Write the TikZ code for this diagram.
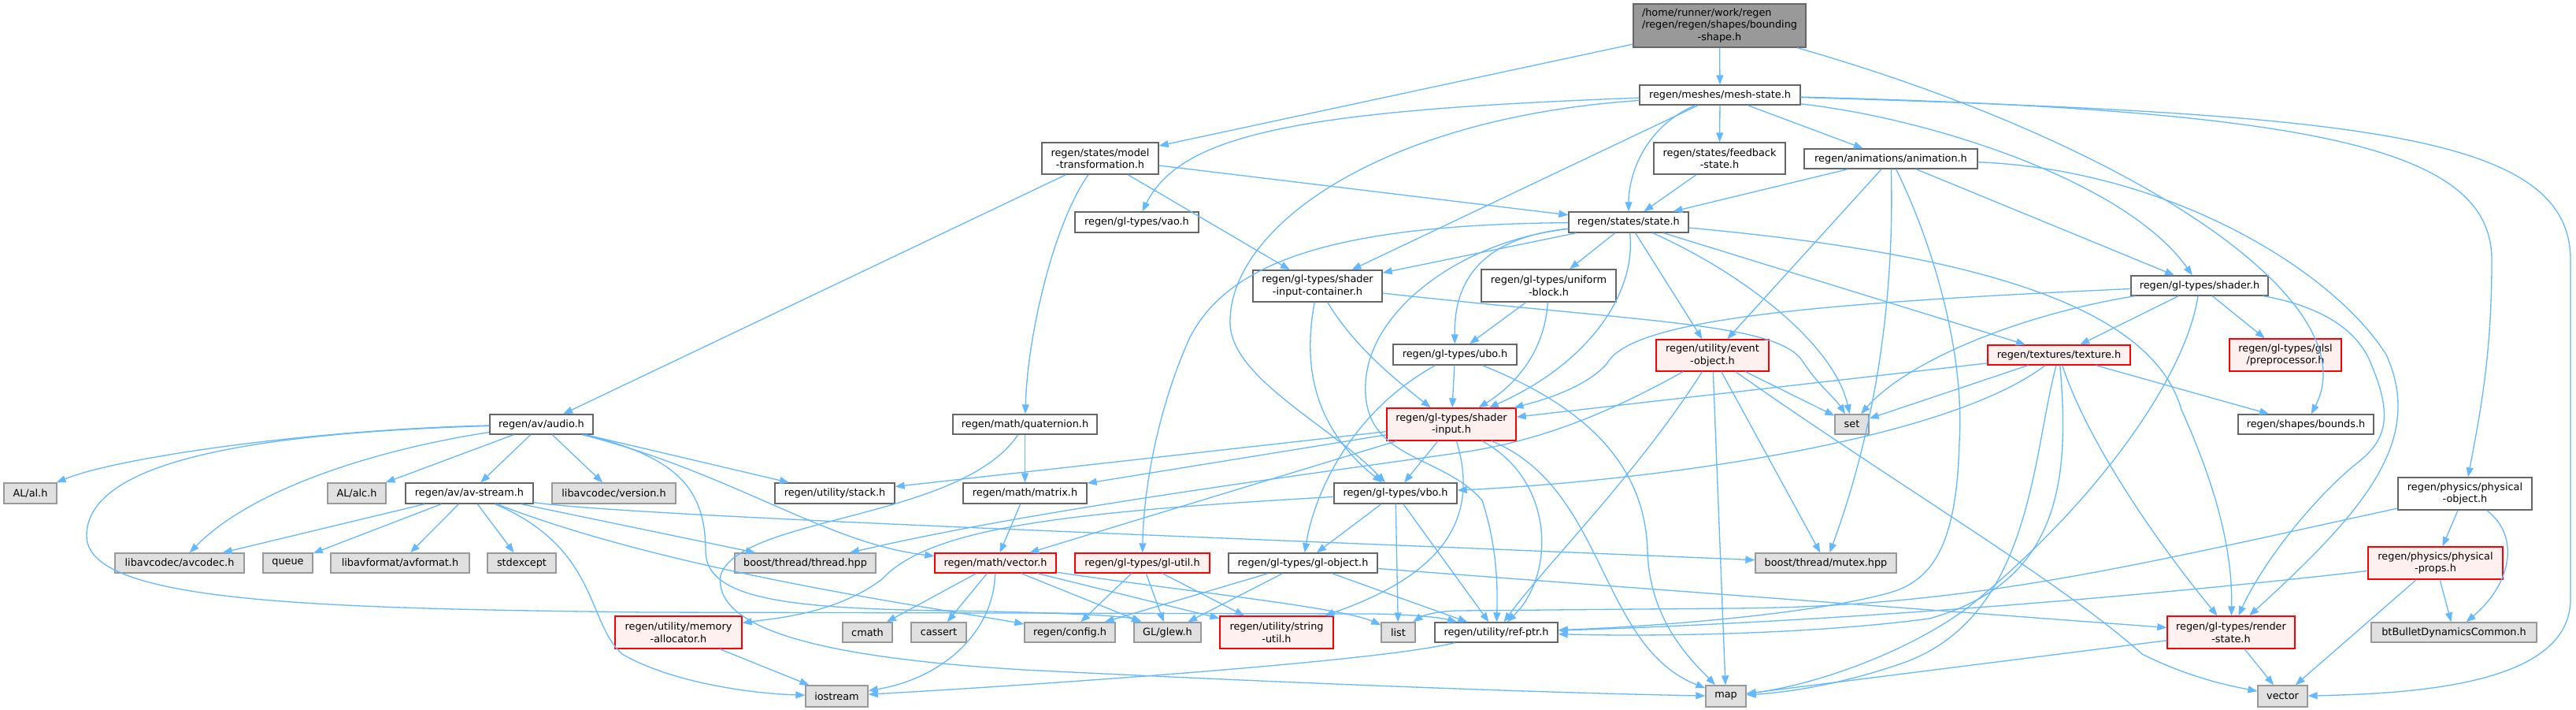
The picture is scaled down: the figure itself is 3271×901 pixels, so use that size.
\documentclass[tikz,border=0pt]{standalone}
\usepackage{fontspec}
\setmainfont{DejaVu Sans}
\usetikzlibrary{arrows.meta}
\definecolor{edgec}{HTML}{63B8FF}
\definecolor{cdark}{HTML}{666666}
\definecolor{cgrey}{HTML}{999999}
\definecolor{cext}{HTML}{E0E0E0}
\definecolor{rfill}{HTML}{FFF0F0}
\definecolor{rdraw}{HTML}{FF0000}
\newcommand\nodefont{\fontsize{12.83pt}{15.5pt}\selectfont}
\begin{document}
\begin{tikzpicture}[x=1pt,y=-1pt,
  nb/.style={draw=cdark, fill=white, line width=1.3pt, inner sep=0pt, align=center, font=\nodefont, text=black},
  ext/.style={nb, draw=cgrey, fill=cext},
  rn/.style={nb, draw=rdraw, fill=rfill},
  rootn/.style={nb, draw=cdark, fill=cgrey},
  edg/.style={draw=edgec, line width=1.3pt, -{Triangle[length=12pt,width=9pt]}, fill=none}]
\fill[white] (0,0) rectangle (3271,901);
\useasboundingbox (0,0) rectangle (3271,901);

% ---------------- nodes ----------------
\node[rootn, minimum width=219pt, minimum height=55pt] (root) at (2183.5,32.5) {\begin{tabular}{@{}l@{}}/home/runner/work/regen\\/regen/regen/shapes/bounding\\\multicolumn{1}{@{}c@{}}{-shape.h}\end{tabular}};
\node[nb, minimum width=204pt, minimum height=25pt] (ms) at (2184,120.5) {regen/meshes/mesh-state.h};
\node[nb, minimum width=148pt, minimum height=40pt] (mt) at (1397,201) {regen/states/model\\-transformation.h};
\node[nb, minimum width=167pt, minimum height=40pt] (fb) at (2183.5,201) {regen/states/feedback\\-state.h};
\node[nb, minimum width=220pt, minimum height=25pt] (anim) at (2401,201.5) {regen/animations/animation.h};
\node[nb, minimum width=157pt, minimum height=26pt] (vao) at (1443.5,282) {regen/gl-types/vao.h};
\node[nb, minimum width=152pt, minimum height=26pt] (st) at (2068,282) {regen/states/state.h};
\node[nb, minimum width=164pt, minimum height=40pt] (sic) at (1673,363) {regen/gl-types/shader\\-input-container.h};
\node[nb, minimum width=171pt, minimum height=41pt] (ub) at (1966.5,362.5) {regen/gl-types/uniform\\-block.h};
\node[nb, minimum width=174pt, minimum height=25pt] (sh) at (2793,362.5) {regen/gl-types/shader.h};
\node[nb, minimum width=157pt, minimum height=26pt] (ubo) at (1847.5,450) {regen/gl-types/ubo.h};
\node[rn, minimum width=181pt, minimum height=25pt] (tex) at (2614.5,450.5) {regen/textures/texture.h};
\node[rn, minimum width=143pt, minimum height=40pt] (eo) at (2174.5,451) {regen/utility/event\\-object.h};
\node[rn, minimum width=142pt, minimum height=41pt] (glsl) at (2902,450.5) {regen/gl-types/glsl\\/preprocessor.h};
\node[nb, minimum width=131pt, minimum height=25pt] (audio) at (687.5,538.5) {regen/av/audio.h};
\node[nb, minimum width=183pt, minimum height=25pt] (quat) at (1301.5,538.5) {regen/math/quaternion.h};
\node[ext, minimum width=43pt, minimum height=25pt] (set) at (2351.5,538.5) {set};
\node[nb, minimum width=172pt, minimum height=25pt] (bounds) at (2928,538.5) {regen/shapes/bounds.h};
\node[rn, minimum width=164pt, minimum height=41pt] (si) at (1843,538.5) {regen/gl-types/shader\\-input.h};
\node[ext, minimum width=67pt, minimum height=26pt] (al) at (38.5,626) {AL/al.h};
\node[ext, minimum width=74pt, minimum height=26pt] (alc) at (453,626) {AL/alc.h};
\node[nb, minimum width=162pt, minimum height=26pt] (avs) at (596,626) {regen/av/av-stream.h};
\node[ext, minimum width=157pt, minimum height=26pt] (ver) at (779.5,626) {libavcodec/version.h};
\node[nb, minimum width=152pt, minimum height=26pt] (stack) at (1060,626) {regen/utility/stack.h};
\node[nb, minimum width=157pt, minimum height=26pt] (mat) at (1301.5,626) {regen/math/matrix.h};
\node[nb, minimum width=156pt, minimum height=26pt] (vbo) at (1772,626) {regen/gl-types/vbo.h};
\node[nb, minimum width=170pt, minimum height=41pt] (po) at (3130,626.5) {regen/physics/physical\\-object.h};
\node[ext, minimum width=164pt, minimum height=25pt] (avc) at (228,714.5) {libavcodec/avcodec.h};
\node[ext, minimum width=63pt, minimum height=25pt] (queue) at (365.5,714.5) {queue};
\node[ext, minimum width=176pt, minimum height=25pt] (avf) at (508,714.5) {libavformat/avformat.h};
\node[ext, minimum width=87pt, minimum height=25pt] (stdx) at (662.5,714.5) {stdexcept};
\node[ext, minimum width=179pt, minimum height=25pt] (thr) at (1022.5,714.5) {boost/thread/thread.hpp};
\node[rn, minimum width=154pt, minimum height=25pt] (vec) at (1264,714.5) {regen/math/vector.h};
\node[rn, minimum width=171pt, minimum height=25pt] (glu) at (1450.5,714.5) {regen/gl-types/gl-util.h};
\node[nb, minimum width=189pt, minimum height=25pt] (glo) at (1654.5,714.5) {regen/gl-types/gl-object.h};
\node[ext, minimum width=179pt, minimum height=25pt] (mtx) at (2318.5,714.5) {boost/thread/mutex.hpp};
\node[rn, minimum width=171pt, minimum height=41pt] (pp) at (3092.5,714.5) {regen/physics/physical\\-props.h};
\node[rn, minimum width=161pt, minimum height=41pt] (mem) at (861.5,802.5) {regen/utility/memory\\-allocator.h};
\node[ext, minimum width=63pt, minimum height=25pt] (cmath) at (1101.5,802.5) {cmath};
\node[ext, minimum width=70pt, minimum height=25pt] (cassert) at (1192,802.5) {cassert};
\node[ext, minimum width=115pt, minimum height=25pt] (cfg) at (1358.5,802.5) {regen/config.h};
\node[ext, minimum width=85pt, minimum height=25pt] (glew) at (1482.5,802.5) {GL/glew.h};
\node[rn, minimum width=144pt, minimum height=41pt] (su) at (1621,802.5) {regen/utility/string\\-util.h};
\node[ext, minimum width=43pt, minimum height=25pt] (list) at (1775.5,802.5) {list};
\node[nb, minimum width=156pt, minimum height=25pt] (rp) at (1900,802.5) {regen/utility/ref-ptr.h};
\node[rn, minimum width=162pt, minimum height=41pt] (rs) at (2833,802.5) {regen/gl-types/render\\-state.h};
\node[ext, minimum width=210pt, minimum height=25pt] (bt) at (3116,802.5) {btBulletDynamicsCommon.h};
\node[ext, minimum width=79pt, minimum height=27pt] (ios) at (1062.5,883.5) {iostream};
\node[ext, minimum width=51pt, minimum height=27pt] (map) at (2191.5,883.5) {map};
\node[ext, minimum width=63pt, minimum height=27pt] (vect) at (2898.5,883.5) {vector};

% ---------------- edges ----------------
% root
\draw[edg] (root) -- (ms);
\draw[edg] (root) -- (mt);
\draw[edg] (root) .. controls (2700,180) and (3010,380) .. (bounds);
% mesh-state
\draw[edg] (ms) -- (fb);
\draw[edg] (ms) -- (anim);
\draw[edg] (ms) .. controls (2090,160) and (2068,220) .. (st);
\draw[edg] (ms) .. controls (1650,140) and (1500,170) .. (vao);
\draw[edg] (ms) -- (sic);
\draw[edg] (ms) .. controls (1750,150) and (1560,290) .. (1562,410) .. controls (1563,480) and (1690,540) .. (vbo);
\draw[edg] (ms) .. controls (2450,150) and (2700,230) .. (sh);
\draw[edg] (ms) .. controls (2950,140) and (3164,190) .. (3164,330) .. controls (3164,450) and (3150,520) .. (po);
\draw[edg] (ms) .. controls (3000,145) and (3264,170) .. (3264,330) -- (3264,760) .. controls (3264,860) and (3100,880) .. (vect);
% model-transformation
\draw[edg] (mt) -- (audio);
\draw[edg] (mt) .. controls (1340,280) and (1305,420) .. (quat);
\draw[edg] (mt) -- (sic);
\draw[edg] (mt) -- (st);
% feedback
\draw[edg] (fb) -- (st);
% animation
\draw[edg] (anim) -- (st);
\draw[edg] (anim) -- (eo);
\draw[edg] (anim) -- (sh);
\draw[edg] (anim) .. controls (2405,350) and (2390,520) .. (mtx);
\draw[edg] (anim) .. controls (2450,300) and (2495,440) .. (2488,560) .. controls (2485,680) and (2460,735) .. (2400,752) .. controls (2300,780) and (2100,795) .. (rp);
\draw[edg] (anim) .. controls (2750,215) and (2960,340) .. (3030,450) .. controls (3080,560) and (3000,650) .. (rs);
% shader.h
\draw[edg] (sh) .. controls (2930,385) and (2990,410) .. (3010,460) .. controls (3040,530) and (3030,560) .. (2990,590) .. controls (2930,640) and (2870,720) .. (rs);
\draw[edg] (sh) -- (tex);
\draw[edg] (sh) -- (glsl);
\draw[edg] (sh) .. controls (2300,385) and (2070,405) .. (2040,462) .. controls (2010,495) and (1950,510) .. (si);
\draw[edg] (sh) .. controls (2560,400) and (2420,460) .. (set);
\draw[edg] (sh) .. controls (2775,480) and (2660,640) .. (2500,770) .. controls (2420,830) and (2300,870) .. (map);
% state.h
\draw[edg] (st) -- (sic);
\draw[edg] (st) -- (ub);
\draw[edg] (st) .. controls (1900,300) and (1846,340) .. (ubo);
\draw[edg] (st) .. controls (1700,285) and (1560,330) .. (1510,430) .. controls (1470,520) and (1452,620) .. (glu);
\draw[edg] (st) .. controls (1860,305) and (1740,390) .. (1734,485) .. controls (1728,585) and (1830,575) .. (1882,635) .. controls (1900,690) and (1902,740) .. (rp);
\draw[edg] (st) .. controls (2078,370) and (2020,460) .. (si);
\draw[edg] (st) -- (eo);
\draw[edg] (st) .. controls (2220,350) and (2330,440) .. (set);
\draw[edg] (st) -- (tex);
\draw[edg] (st) .. controls (2480,320) and (2730,380) .. (2770,520) .. controls (2815,620) and (2835,700) .. (rs);
% shader-input-container
\draw[edg] (sic) .. controls (2100,410) and (2260,410) .. (2290,460) .. controls (2310,490) and (2330,505) .. (set);
\draw[edg] (sic) .. controls (1655,460) and (1665,540) .. (vbo);
\draw[edg] (sic) .. controls (1720,440) and (1770,480) .. (si);
% uniform-block
\draw[edg] (ub) -- (ubo);
\draw[edg] (ub) .. controls (1962,440) and (1930,485) .. (si);
% ubo
\draw[edg] (ubo) .. controls (1720,520) and (1670,620) .. (glo);
\draw[edg] (ubo) -- (si);
\draw[edg] (ubo) .. controls (2050,530) and (2090,620) .. (2092,700) .. controls (2095,790) and (2150,840) .. (map);
% event-object
\draw[edg] (eo) .. controls (2050,520) and (1960,560) .. (1850,575) .. controls (1600,610) and (1300,650) .. (thr);
\draw[edg] (eo) .. controls (2080,600) and (1960,720) .. (rp);
\draw[edg] (eo) -- (map);
\draw[edg] (eo) -- (mtx);
\draw[edg] (eo) -- (set);
\draw[edg] (eo) .. controls (2400,610) and (2620,740) .. (2720,830) .. controls (2780,860) and (2830,870) .. (vect);
% shader-input
\draw[edg] (si) -- (stack);
\draw[edg] (si) -- (mat);
\draw[edg] (si) -- (vec);
\draw[edg] (si) -- (vbo);
\draw[edg] (si) .. controls (1880,660) and (1830,730) .. (su);
\draw[edg] (si) .. controls (1975,610) and (1975,730) .. (rp);
\draw[edg] (si) .. controls (2040,620) and (2030,820) .. (map);
% texture
\draw[edg] (tex) -- (si);
\draw[edg] (tex) -- (set);
\draw[edg] (tex) .. controls (2470,560) and (2100,610) .. (vbo);
\draw[edg] (tex) .. controls (2650,560) and (2740,690) .. (rs);
\draw[edg] (tex) -- (bounds);
\draw[edg] (tex) .. controls (2580,580) and (2580,780) .. (2420,840) .. controls (2350,865) and (2280,878) .. (map);
\draw[edg] (tex) .. controls (2630,620) and (2610,740) .. (2450,785) .. controls (2300,805) and (2100,808) .. (rp);
% vbo
\draw[edg] (vbo) -- (glo);
\draw[edg] (vbo) -- (list);
\draw[edg] (vbo) -- (rp);
\draw[edg] (vbo) .. controls (1350,650) and (1180,670) .. (1120,735) .. controls (1060,780) and (980,785) .. (mem);
% gl-object
\draw[edg] (glo) -- (cfg);
\draw[edg] (glo) -- (glew);
\draw[edg] (glo) -- (rp);
\draw[edg] (glo) -- (rs);
% gl-util
\draw[edg] (glu) -- (cfg);
\draw[edg] (glu) -- (glew);
\draw[edg] (glu) -- (su);
% vector.h
\draw[edg] (vec) -- (cmath);
\draw[edg] (vec) -- (cassert);
\draw[edg] (vec) .. controls (1262,800) and (1200,860) .. (ios);
\draw[edg] (vec) -- (glew);
\draw[edg] (vec) -- (su);
\draw[edg] (vec) .. controls (1500,750) and (1700,770) .. (list);
% matrix, quaternion
\draw[edg] (mat) -- (vec);
\draw[edg] (quat) -- (mat);
\draw[edg] (quat) .. controls (1220,660) and (940,655) .. (915,730) .. controls (905,800) and (1050,835) .. (1300,850) .. controls (1700,870) and (2000,880) .. (map);
% audio
\draw[edg] (audio) .. controls (400,545) and (150,580) .. (al);
\draw[edg] (audio) -- (alc);
\draw[edg] (audio) -- (avs);
\draw[edg] (audio) -- (ver);
\draw[edg] (audio) .. controls (480,570) and (320,620) .. (avc);
\draw[edg] (audio) -- (stack);
\draw[edg] (audio) .. controls (930,600) and (1050,690) .. (vec);
\draw[edg] (audio) .. controls (860,580) and (896,620) .. (896,700) .. controls (897,760) and (1000,772) .. (1200,775) .. controls (1350,777) and (1430,782) .. (glew);
\draw[edg] (audio) .. controls (300,550) and (110,590) .. (110,680) .. controls (110,765) and (400,772) .. (820,777) -- (1745,779) .. controls (1800,780) and (1830,784) .. (rp);
% av-stream
\draw[edg] (avs) -- (avc);
\draw[edg] (avs) -- (queue);
\draw[edg] (avs) -- (avf);
\draw[edg] (avs) -- (stdx);
\draw[edg] (avs) -- (thr);
\draw[edg] (avs) .. controls (800,655) and (1500,680) .. (mtx);
\draw[edg] (avs) .. controls (850,725) and (1180,770) .. (cfg);
\draw[edg] (avs) .. controls (760,695) and (745,790) .. (790,830) .. controls (850,865) and (950,880) .. (ios);
% others
\draw[edg] (mem) -- (ios);
\draw[edg] (rp) .. controls (1750,840) and (1300,870) .. (ios);
\draw[edg] (rs) -- (map);
\draw[edg] (rs) -- (vect);
\draw[edg] (pp) -- (vect);
\draw[edg] (pp) -- (bt);
\draw[edg] (po) -- (pp);
\draw[edg] (po) .. controls (3200,680) and (3190,740) .. (bt);
\draw[edg] (po) .. controls (2700,720) and (2500,770) .. (2200,772) -- (1850,775) .. controls (1820,776) and (1805,782) .. (list);
\draw[edg] (pp) .. controls (2700,760) and (2300,790) .. (rp);
\end{tikzpicture}
\end{document}
